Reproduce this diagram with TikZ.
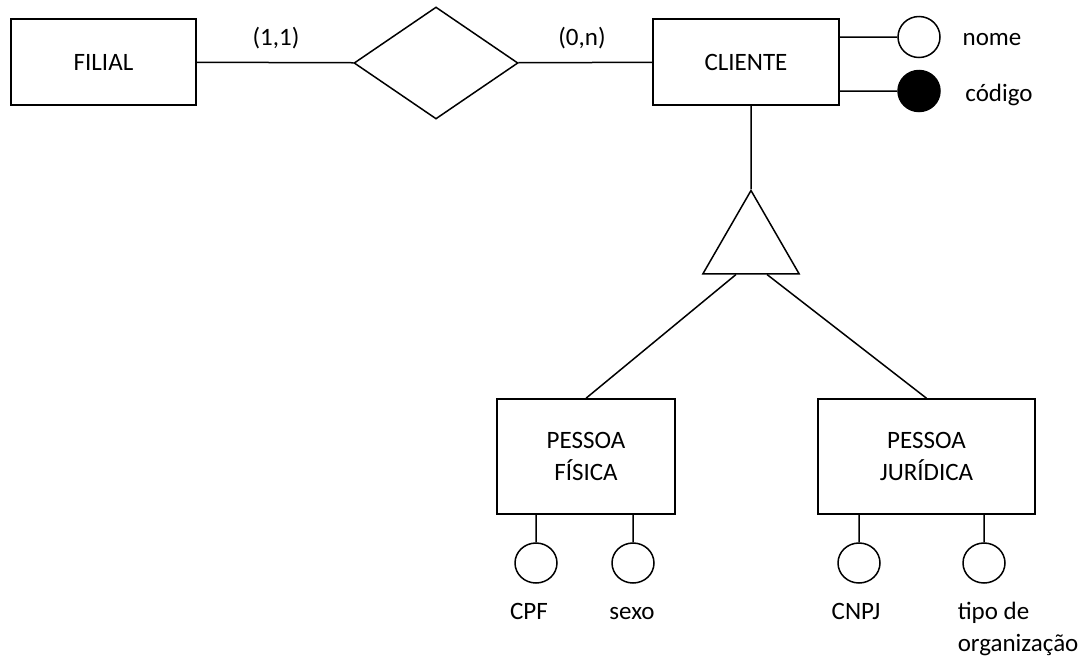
\documentclass[tikz,border=0pt]{standalone}
\usepackage{fontspec}
\setmainfont{Carlito}
\usetikzlibrary{shapes.geometric}

\begin{document}
\begin{tikzpicture}[x=1pt, y=-1pt, line width=1.5pt,
		font=\fontsize{25}{32}\selectfont,
		ent/.style={draw, rectangle, inner sep=0pt, align=center},
		rel/.style={draw, diamond, inner sep=0pt, minimum width=164pt, minimum height=112pt},
		atr/.style={draw, ellipse, inner sep=0pt, minimum width=42pt, minimum height=40pt},
		esp/.style={draw, regular polygon, regular polygon sides=3, inner sep=0pt, minimum size=111pt}]
		\useasboundingbox (0,0) rectangle (1083,659);
		\draw
		node[ent, minimum width=185pt, minimum height=86pt] at (103.5,62) (filial) {FILIAL}
		node[rel] at (436,63) (rel) {}
		node[ent, minimum width=186pt, minimum height=86pt] at (746,62) (cliente) {CLIENTE}
		node[atr, minimum height=41pt] at (919,37) (nome) {}
		node[atr, minimum height=41pt, fill=black] at (919,91) (codigo) {}
		node at (992,40) (lnome) {nome}
		node at (999,95) (lcodigo) {código}
		node at (276,38) (card1) {(1,1)}
		node at (582,38) (card2) {(0,n)}

		node[esp] at (751,246) (gen) {}

		node[ent, minimum width=178pt, minimum height=115pt] at (586,456.5) (pf) {PESSOA\\FÍSICA}
		node[ent, minimum width=217pt, minimum height=115pt] at (926.5,456.5) (pj) {PESSOA\\JURÍDICA}

		node[atr] at (536,563) (cpf) {}
		node[atr] at (633,563) (sexo) {}
		node[atr] at (859,563) (cnpj) {}
		node[atr] at (984,563) (tipo) {}
		node[anchor=base] at (529,619) (lcpf) {CPF}
		node[anchor=base] at (632,619) (lsexo) {sexo}
		node[anchor=base] at (856,619) (lcnpj) {CNPJ}
		node[anchor=west, align=left, inner sep=0pt] at (957,629) (ltipo) {tipo de\\organização}

		(filial) -- (rel)
		(rel) -- (cliente)
		(nome -| cliente.east) -- (nome)
		(codigo -| cliente.east) -- (codigo)
		(cliente.south -| gen.corner 1) -- (gen.corner 1)
		([xshift=-15pt]gen.south) -- (pf.north)
		([xshift=16pt]gen.south) -- (pj.north)

		(cpf.north |- pf.south) -- (cpf)
		(sexo.north |- pf.south) -- (sexo)
		(cnpj.north |- pj.south) -- (cnpj)
		(tipo.north |- pj.south) -- (tipo)
		;
	\end{tikzpicture}
\end{document}
